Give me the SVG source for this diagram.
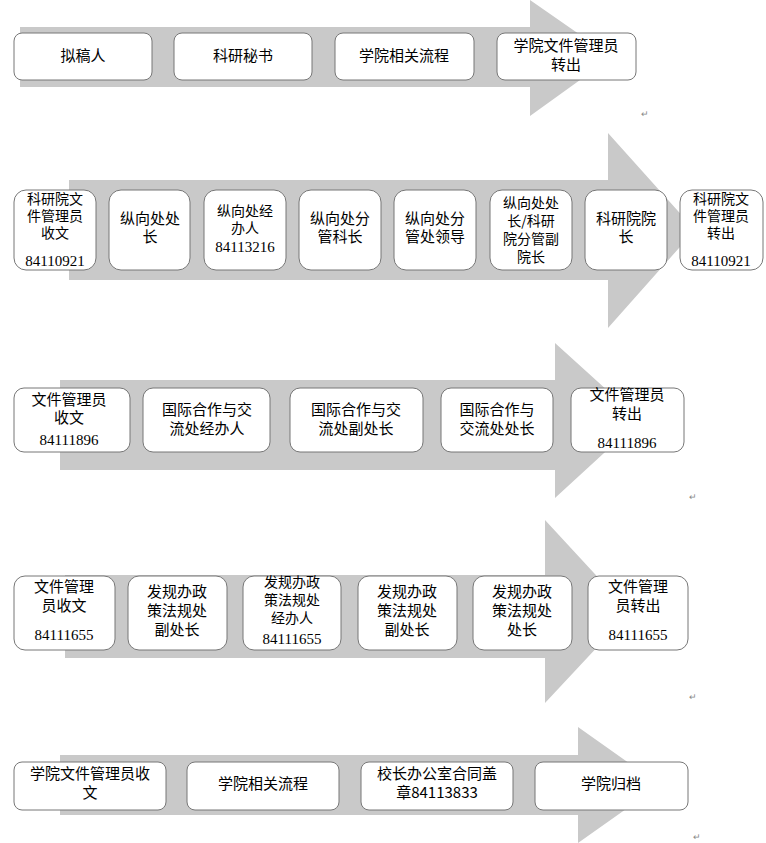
<svg xmlns="http://www.w3.org/2000/svg" width="766" height="843" viewBox="0 0 766 843">
<style>
.ar{fill:#c9c9c9}
.b{fill:#fff;stroke:#777;stroke-width:1}
text{font-family:"Noto Sans CJK SC","Liberation Sans",sans-serif;font-size:15px;fill:#000;text-anchor:middle}
.t{font-size:14px}
.n{font-family:"Liberation Serif",serif;font-size:15px}
.m{font-size:9px;fill:#888}
</style>
<g id="connectors">
<polygon class="ar" points="20,27 530,27 530,0 612,57 530,116 530,87 20,87"/>
<polygon class="ar" points="69,180 608,180 608,133 695,230 608,328 608,280 69,280"/>
<polygon class="ar" points="60,380 555,380 555,343 640,420 555,498 555,470 60,470"/>
<polygon class="ar" points="65,575 545,575 545,520 630,612 545,703 545,658 65,658"/>
<polygon class="ar" points="60,755 578,755 578,727 660,785 578,843 578,815 60,815"/>
</g>
<g id="r1">
<g id="n1"><rect class="b" x="14" y="33" width="138" height="47" rx="8"/><text x="83" y="61">拟稿人</text></g>
<g id="n2"><rect class="b" x="174" y="33" width="138" height="47" rx="8"/><text x="243" y="61">科研秘书</text></g>
<g id="n3"><rect class="b" x="335" y="33" width="139" height="47" rx="8"/><text x="404" y="61">学院相关流程</text></g>
<g id="n4"><rect class="b" x="497" y="33" width="139" height="47" rx="8"/><text x="566" y="51">学院文件管理员</text><text x="566" y="70">转出</text></g>
</g>
<g id="r2">
<g id="n5"><rect class="b" x="14" y="190" width="82" height="80" rx="12"/><text class="t" x="55" y="204">科研院文</text><text class="t" x="55" y="221">件管理员</text><text class="t" x="55" y="238">收文</text><text class="n" x="55" y="266">84110921</text></g>
<g id="n6"><rect class="b" x="109" y="190" width="81" height="80" rx="12"/><text x="150" y="224">纵向处处</text><text x="150" y="242">长</text></g>
<g id="n7"><rect class="b" x="204" y="190" width="82" height="80" rx="12"/><text class="t" x="245" y="216">纵向处经</text><text class="t" x="245" y="233">办人</text><text class="n" x="245" y="252">84113216</text></g>
<g id="n8"><rect class="b" x="299" y="190" width="82" height="80" rx="12"/><text x="340" y="224">纵向处分</text><text x="340" y="242">管科长</text></g>
<g id="n9"><rect class="b" x="394" y="190" width="82" height="80" rx="12"/><text x="435" y="224">纵向处分</text><text x="435" y="242">管处领导</text></g>
<g id="n10"><rect class="b" x="490" y="190" width="82" height="80" rx="12"/><text class="t" x="531" y="208">纵向处处</text><text class="t" x="531" y="226">长/科研</text><text class="t" x="531" y="244">院分管副</text><text class="t" x="531" y="262">院长</text></g>
<g id="n11"><rect class="b" x="585" y="190" width="82" height="80" rx="12"/><text x="626" y="224">科研院院</text><text x="626" y="242">长</text></g>
<g id="n12"><rect class="b" x="680" y="190" width="83" height="80" rx="12"/><text class="t" x="721" y="204">科研院文</text><text class="t" x="721" y="221">件管理员</text><text class="t" x="721" y="238">转出</text><text class="n" x="721" y="266">84110921</text></g>
</g>
<g id="r3">
<g id="n13"><rect class="b" x="14" y="388" width="116" height="64" rx="10"/><text x="69" y="405">文件管理员</text><text x="69" y="423">收文</text><text class="n" x="69" y="445">84111896</text></g>
<g id="n14"><rect class="b" x="143" y="388" width="127" height="64" rx="10"/><text x="207" y="415">国际合作与交</text><text x="207" y="434">流处经办人</text></g>
<g id="n15"><rect class="b" x="290" y="388" width="133" height="64" rx="10"/><text x="356" y="415">国际合作与交</text><text x="356" y="434">流处副处长</text></g>
<g id="n16"><rect class="b" x="441" y="388" width="112" height="64" rx="10"/><text x="497" y="415">国际合作与</text><text x="497" y="434">交流处处长</text></g>
<g id="n17"><rect class="b" x="571" y="388" width="113" height="64" rx="10"/><text x="627" y="400">文件管理员</text><text x="627" y="419">转出</text><text class="n" x="627" y="448">84111896</text></g>
</g>
<g id="r4">
<g id="n18"><rect class="b" x="14" y="576" width="101" height="74" rx="11"/><text x="64" y="592">文件管理</text><text x="64" y="611">员收文</text><text class="n" x="64" y="640">84111655</text></g>
<g id="n19"><rect class="b" x="128" y="576" width="99" height="74" rx="11"/><text x="177" y="597">发规办政</text><text x="177" y="616">策法规处</text><text x="177" y="635">副处长</text></g>
<g id="n20"><rect class="b" x="243" y="576" width="98" height="74" rx="11"/><text class="t" x="292" y="587">发规办政</text><text class="t" x="292" y="605">策法规处</text><text class="t" x="292" y="623">经办人</text><text class="n" x="292" y="644">84111655</text></g>
<g id="n21"><rect class="b" x="358" y="576" width="99" height="74" rx="11"/><text x="407" y="597">发规办政</text><text x="407" y="616">策法规处</text><text x="407" y="635">副处长</text></g>
<g id="n22"><rect class="b" x="473" y="576" width="99" height="74" rx="11"/><text x="522" y="597">发规办政</text><text x="522" y="616">策法规处</text><text x="522" y="635">处长</text></g>
<g id="n23"><rect class="b" x="588" y="576" width="100" height="74" rx="11"/><text x="638" y="592">文件管理</text><text x="638" y="611">员转出</text><text class="n" x="638" y="640">84111655</text></g>
</g>
<g id="r5">
<g id="n24"><rect class="b" x="14" y="762" width="152" height="48" rx="8"/><text x="90" y="779">学院文件管理员收</text><text x="90" y="798">文</text></g>
<g id="n25"><rect class="b" x="187" y="762" width="152" height="48" rx="8"/><text x="263" y="789">学院相关流程</text></g>
<g id="n26"><rect class="b" x="361" y="762" width="152" height="48" rx="8"/><text x="437" y="779">校长办公室合同盖</text><text x="437" y="798">章84113833</text></g>
<g id="n27"><rect class="b" x="535" y="762" width="153" height="48" rx="8"/><text x="611" y="789">学院归档</text></g>
</g>
<text class="m" x="645" y="117">↵</text>
<text class="m" x="693" y="500">↵</text>
<text class="m" x="693" y="700">↵</text>
<text class="m" x="697" y="840">↵</text>
</svg>
